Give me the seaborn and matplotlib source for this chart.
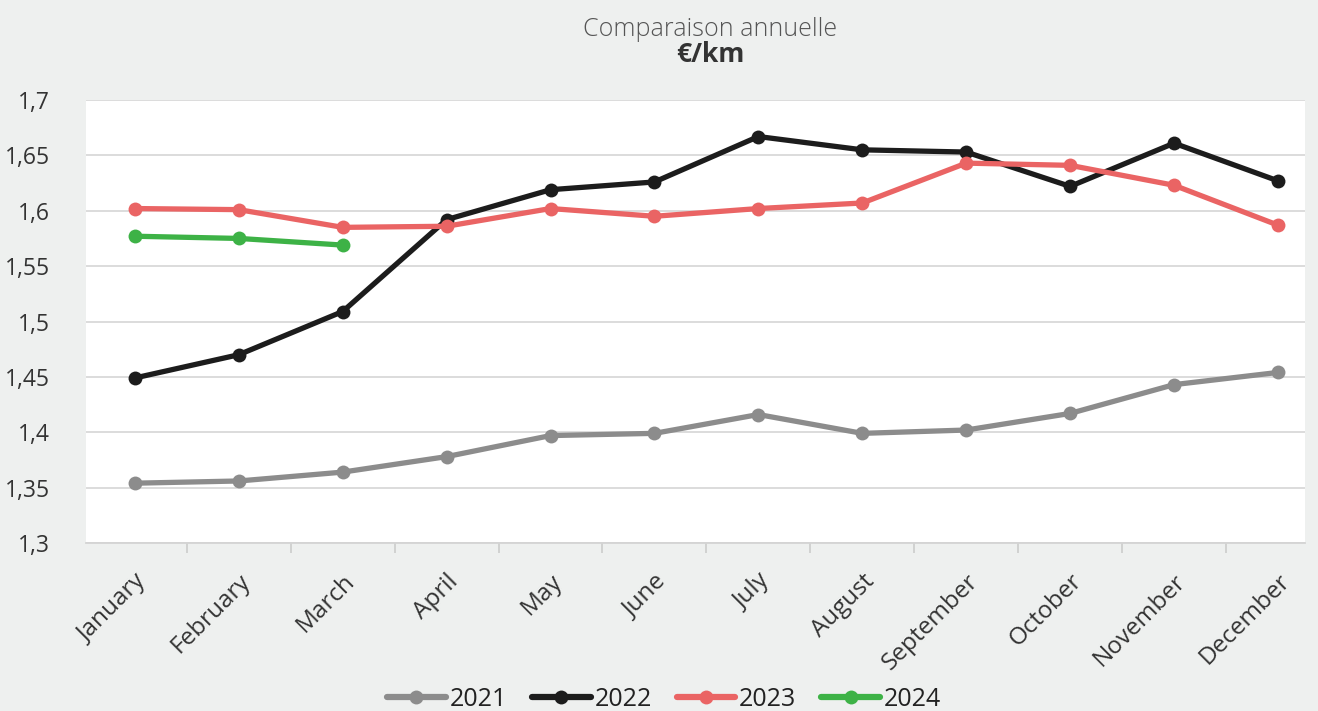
import numpy as np
import pandas as pd
import matplotlib
matplotlib.use("Agg")
import matplotlib.pyplot as plt
import matplotlib.transforms as mtransforms
import seaborn as sns
from matplotlib.ticker import FuncFormatter, FixedLocator
from matplotlib.lines import Line2D

months = ["January", "February", "March", "April", "May", "June", "July",
          "August", "September", "October", "November", "December"]
y2021 = [1.354, 1.356, 1.364, 1.378, 1.397, 1.399, 1.416, 1.399, 1.402, 1.417, 1.443, 1.454]
y2022 = [1.449, 1.470, 1.509, 1.592, 1.619, 1.626, 1.667, 1.655, 1.653, 1.622, 1.661, 1.627]
y2023 = [1.602, 1.601, 1.585, 1.586, 1.602, 1.595, 1.602, 1.607, 1.643, 1.641, 1.623, 1.587]
y2024 = [1.577, 1.575, 1.569]
years = ["2021", "2022", "2023", "2024"]
colors = ["#8c8c8c", "#1c1c1c", "#ea6464", "#3db246"]

rows = []
for yr, vals in zip(years, [y2021, y2022, y2023, y2024]):
    for i, v in enumerate(vals):
        rows.append({"idx": i, "month": months[i], "year": yr, "value": v})
df = pd.DataFrame(rows)

sns.set_theme(style="white")
plt.rcParams["font.family"] = ["Open Sans", "DejaVu Sans"]

fig = plt.figure(figsize=(13.18, 7.11), dpi=100)
fig.patch.set_facecolor("#eef0ef")
ax = fig.add_axes([86/1318, 1-543/711, (1305-86)/1318, (543-100)/711])
ax.set_facecolor("white")

sns.lineplot(data=df, x="idx", y="value", hue="year", palette=colors,
             marker="o", markersize=10, markeredgewidth=0, linewidth=3.8,
             sort=False, ax=ax, legend=False)

ax.set_ylim(1.3, 1.7)
ax.set_xlim(-0.47, 11.26)
ax.set_yticks(np.arange(1.3, 1.7001, 0.05))
ax.yaxis.set_major_formatter(FuncFormatter(lambda v, p: f"{v:.2f}".rstrip("0").rstrip(".").replace(".", ",")))
ax.grid(axis="y", color="#d9d9d9", linewidth=1.3)
ax.set_axisbelow(True)
for s in ["left", "right", "top"]:
    ax.spines[s].set_visible(False)
ax.spines["bottom"].set_color("#d4d4d4")
ax.spines["bottom"].set_linewidth(1.3)

ax.set_xticks(range(12))
ax.set_xticklabels(months, rotation=45, ha="right", rotation_mode="anchor",
                   fontsize=17.5, color="#333333")
offset = mtransforms.ScaledTranslation(-4/100, 0, fig.dpi_scale_trans)
for lab in ax.get_xticklabels():
    lab.set_transform(lab.get_transform() + offset)
ax.xaxis.set_minor_locator(FixedLocator([i + 0.5 for i in range(-1, 12)]))
ax.tick_params(axis="x", which="major", length=0, pad=19)
ax.tick_params(axis="x", which="minor", length=7, color="#cccccc", width=1.2, bottom=True)
ax.tick_params(axis="y", length=0, pad=26, labelsize=16.5, labelcolor="#333333")
ax.set_xlabel("")
ax.set_ylabel("")

fig.text(710/1318, 1-29/711, "Comparaison annuelle", ha="center", va="center",
         fontsize=18, color="#555555", fontweight="light")
fig.text(710/1318, 1-54/711, "€/km", ha="center", va="center",
         fontsize=19, color="#333333", fontweight="bold")

handles = [Line2D([], [], color=c, marker="o", markersize=10, markeredgewidth=0,
                  linewidth=4.5) for c in colors]
fig.legend(handles, years, loc="center", bbox_to_anchor=(664/1318, 1-699/711),
           ncol=4, frameon=False, fontsize=18, handlelength=2.35, handletextpad=0.15,
           columnspacing=1.0, labelcolor="#222222")

fig.savefig("out.png", dpi=100, facecolor=fig.get_facecolor())
